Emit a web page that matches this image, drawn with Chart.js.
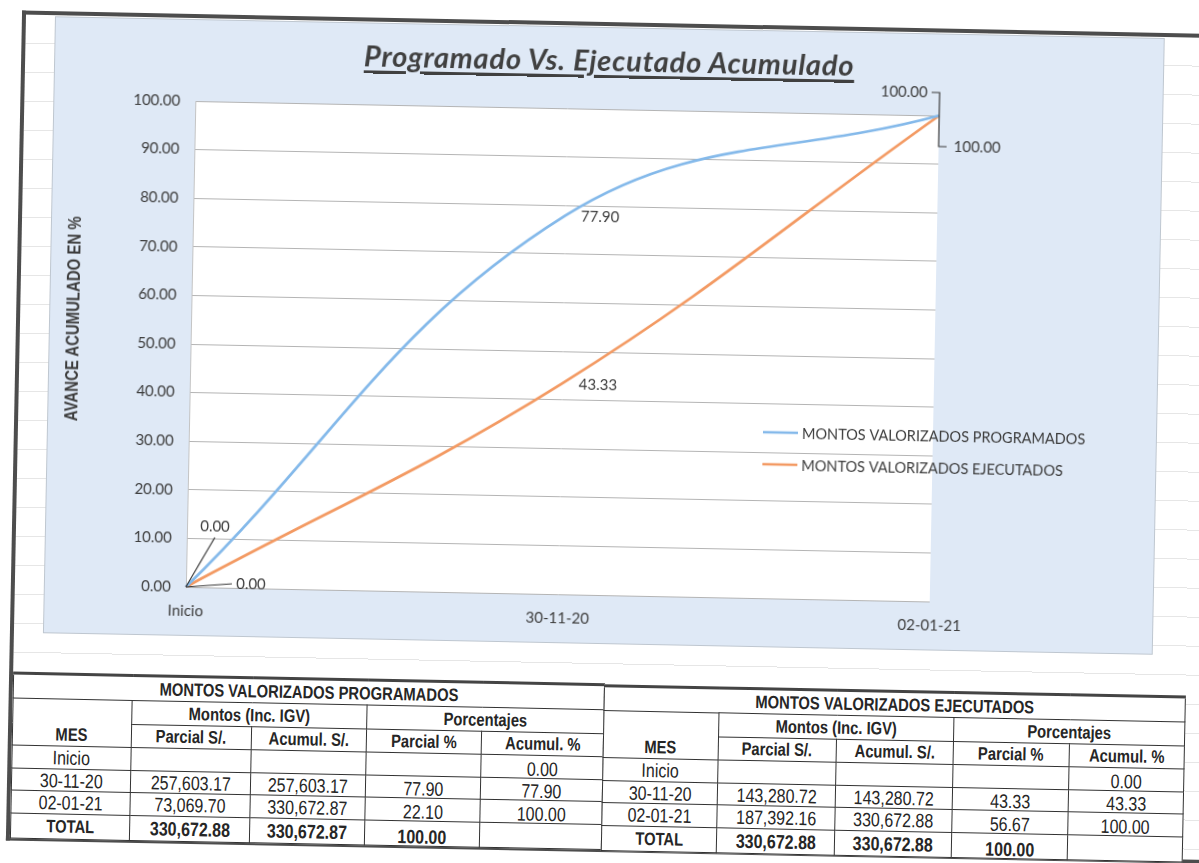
<!DOCTYPE html>
<html>
<head>
<meta charset="utf-8">
<script src="https://cdn.jsdelivr.net/npm/chart.js@4.4.1/dist/chart.umd.min.js"></script>
<style>
html,body{margin:0;padding:0;background:#fff;width:1199px;height:863px;overflow:hidden;}
#page{position:absolute;left:0;top:0;width:1199px;height:863px;transform:rotate(1.12deg);transform-origin:600px 430px;}
#frame{position:absolute;left:14px;top:22px;width:1230px;height:830px;box-sizing:border-box;border:4px solid #4d4d4d;border-right:none;
  background-image:repeating-linear-gradient(to bottom,transparent 0,transparent 28px,#e6e6e6 28px,#e6e6e6 29px);}
#chartbox{position:absolute;left:48px;top:28px;width:1108px;height:615px;background:#dfe9f6;box-shadow:0 0 0 1px #bfc7d0;}
#chartbox canvas{position:absolute;left:0;top:0;}
#title{position:absolute;left:48px;width:1108px;top:42px;height:36px;line-height:36px;text-align:center;
  font-family:Lato,"Open Sans",sans-serif;font-weight:bold;font-style:italic;font-size:29px;letter-spacing:0.8px;color:#404040;
  text-decoration:underline;text-decoration-thickness:2.5px;text-underline-offset:4px;}
#ytitle{position:absolute;left:-59px;top:319px;width:260px;height:20px;line-height:20px;text-align:center;
  transform:rotate(-90deg) scaleX(0.83);font-family:"Liberation Sans",Arial,sans-serif;
  font-weight:bold;font-size:18px;color:#3d3d3d;white-space:nowrap;}
table.t{position:absolute;border-collapse:collapse;table-layout:fixed;
  font-family:"Liberation Sans",Arial,sans-serif;color:#262626;background:#fff;}
table.t td{border:1px solid #333;padding:0;text-align:center;vertical-align:middle;font-size:19.5px;line-height:18px;white-space:nowrap;overflow:hidden;}
table.t td span{display:inline-block;transform:scaleX(0.82);transform-origin:50% 50%;}
table.t td.h{font-weight:bold;font-size:18px;}
table.t td.bt{font-weight:bold;}
table.t tr.top td{border-top:3px solid #444;}
table.t td.p{vertical-align:bottom;padding-bottom:0;}
table.t td.mes{vertical-align:bottom;padding-bottom:2px;}
</style>
</head>
<body>
<div id="page">
  <div id="frame"></div>
  <div id="chartbox"><canvas id="c" width="1108" height="615"></canvas></div>
  <div id="title">Programado Vs. Ejecutado Acumulado</div>
  <div id="ytitle">AVANCE ACUMULADO EN %</div>
  <table class="t" id="tprog" style="left:18px;top:683px"></table>
  <table class="t" id="tejec" style="left:609px;top:684px"></table>
</div>
<script>
// ---------------- data ----------------
const meses = ['Inicio', '30-11-20', '02-01-21'];
const progParcial    = [null, 257603.17, 73069.70];
const progAcum       = [null, 257603.17, 330672.87];
const progPctParcial = [null, 77.90, 22.10];
const progPctAcum    = [0.00, 77.90, 100.00];
const progTotal      = [330672.88, 330672.87, 100.00];

const ejecParcial    = [null, 143280.72, 187392.16];
const ejecAcum       = [null, 143280.72, 330672.88];
const ejecPctParcial = [null, 43.33, 56.67];
const ejecPctAcum    = [0.00, 43.33, 100.00];
const ejecTotal      = [330672.88, 330672.88, 100.00];

const seriesNames = ['MONTOS VALORIZADOS PROGRAMADOS', 'MONTOS VALORIZADOS EJECUTADOS'];
const yMin = 0, yMax = 100, yStep = 10;

// ---------------- table ----------------
const fmt = v => (v === null || v === undefined) ? '' :
  v.toLocaleString('en-US', {minimumFractionDigits: 2, maximumFractionDigits: 2});
const sp = s => s === '' ? '' : '<span>' + s + '</span>';

function buildTable(id, widths, title, parc, acum, pp, pa, total) {
  const rowH = [25, 24, 23, 23, 22, 23, 25];
  let h = '<colgroup>' + widths.map(w => '<col style="width:' + w + 'px">').join('') + '</colgroup>';
  h += '<tr class="top" style="height:' + rowH[0] + 'px"><td colspan="5" class="h">' + sp(title) + '</td></tr>';
  h += '<tr style="height:' + rowH[1] + 'px"><td rowspan="2" class="h mes">' + sp('MES') + '</td><td colspan="2" class="h">' + sp('Montos (Inc. IGV)') +
       '</td><td colspan="2" class="h">' + sp('Porcentajes') + '</td></tr>';
  h += '<tr style="height:' + rowH[2] + 'px"><td class="h">' + sp('Parcial S/.') + '</td><td class="h">' + sp('Acumul. S/.') +
       '</td><td class="h">' + sp('Parcial %') + '</td><td class="h">' + sp('Acumul. %') + '</td></tr>';
  for (let i = 0; i < meses.length; i++) {
    h += '<tr style="height:' + rowH[3 + i] + 'px"><td>' + sp(meses[i]) + '</td><td>' + sp(fmt(parc[i])) + '</td><td>' + sp(fmt(acum[i])) +
      '</td><td class="p">' + sp(fmt(pp[i])) + '</td><td class="p">' + sp(fmt(pa[i])) + '</td></tr>';
  }
  h += '<tr style="height:' + rowH[6] + 'px"><td class="h">' + sp('TOTAL') + '</td><td class="bt">' + sp(fmt(total[0])) + '</td><td class="bt">' + sp(fmt(total[1])) +
    '</td><td class="bt p">' + sp(fmt(total[2])) + '</td><td></td></tr>';
  const t = document.getElementById(id);
  t.innerHTML = h;
  t.style.width = widths.reduce((a, b) => a + b, 0) + 'px';
}
buildTable('tprog', [119, 120, 115, 115, 122], 'MONTOS VALORIZADOS PROGRAMADOS', progParcial, progAcum, progPctParcial, progPctAcum, progTotal);
buildTable('tejec', [115, 118, 117, 116, 115], 'MONTOS VALORIZADOS EJECUTADOS', ejecParcial, ejecAcum, ejecPctParcial, ejecPctAcum, ejecTotal);

// ---------------- chart ----------------
const TEXT = '#3d3d3d';
const FONT = 'Lato, "Open Sans", sans-serif';
const colors = ['#84b9ea', '#f39a63'];

// label placement (pixel offsets from each point), styling only
const labelLayout = [
  [ {dx: 28, dy: -61, align: 'center', leader: [[28, -50]]},
    {dx: 35, dy: 1, align: 'center'},
    {dx: -12, dy: -23, align: 'right', leader: [[0, -23], [-8, -23]]} ],
  [ {dx: 65, dy: -4, align: 'center', leader: [[46, -4]]},
    {dx: 36, dy: 1, align: 'center'},
    {dx: 15, dy: 31, align: 'left', leader: [[0, 31], [8, 31]]} ]
];

const plotBg = {
  id: 'plotBg',
  beforeDraw(chart) {
    const {ctx, chartArea: a} = chart;
    ctx.save();
    ctx.fillStyle = '#ffffff';
    ctx.fillRect(a.left, a.top, a.right - a.left, a.bottom - a.top);
    ctx.restore();
  }
};

const dataLabels = {
  id: 'dataLabels',
  afterDatasetsDraw(chart) {
    const ctx = chart.ctx;
    ctx.save();
    chart.data.datasets.forEach((ds, di) => {
      const meta = chart.getDatasetMeta(di);
      meta.data.forEach((pt, i) => {
        const L = labelLayout[di][i];
        if (!L) return;
        if (L.leader) {
          ctx.beginPath();
          ctx.strokeStyle = '#3a3a3a';
          ctx.lineWidth = 1.2;
          ctx.moveTo(pt.x, pt.y);
          L.leader.forEach(p => ctx.lineTo(pt.x + p[0], pt.y + p[1]));
          ctx.stroke();
        }
        ctx.fillStyle = TEXT;
        ctx.font = '15px ' + FONT;
        ctx.textAlign = L.align;
        ctx.textBaseline = 'middle';
        ctx.fillText(ds.data[i].toFixed(2), pt.x + L.dx, pt.y + L.dy);
      });
    });
    ctx.restore();
  }
};

const innerLegend = {
  id: 'innerLegend',
  afterDraw(chart) {
    const {ctx, chartArea: a} = chart;
    const x0 = a.right - 170, y0 = a.top + 320, gap = 32;
    ctx.save();
    chart.data.datasets.forEach((ds, i) => {
      const y = y0 + i * gap;
      ctx.strokeStyle = ds.borderColor;
      ctx.lineWidth = 2.5;
      ctx.beginPath();
      ctx.moveTo(x0, y);
      ctx.lineTo(x0 + 35, y);
      ctx.stroke();
      ctx.fillStyle = TEXT;
      ctx.font = '14.5px ' + FONT;
      ctx.textAlign = 'left';
      ctx.textBaseline = 'middle';
      ctx.fillText(ds.label, x0 + 39, y + 1);
    });
    ctx.restore();
  }
};

new Chart(document.getElementById('c'), {
  type: 'line',
  data: {
    labels: meses,
    datasets: [
      {label: seriesNames[0], data: progPctAcum, borderColor: colors[0], backgroundColor: colors[0],
       borderWidth: 2.75, pointRadius: 0, tension: 0.4, fill: false, clip: false},
      {label: seriesNames[1], data: ejecPctAcum, borderColor: colors[1], backgroundColor: colors[1],
       borderWidth: 2.75, pointRadius: 0, tension: 0.4, fill: false, clip: false}
    ]
  },
  options: {
    responsive: false,
    animation: false,
    devicePixelRatio: 1,
    layout: {padding: {left: 0, right: 223, top: 81, bottom: 0}},
    plugins: {legend: {display: false}, title: {display: false}, tooltip: {enabled: false}},
    scales: {
      x: {
        type: 'category',
        offset: false,
        grid: {display: false, drawTicks: false},
        border: {display: false},
        ticks: {color: TEXT, font: {family: FONT, size: 15}, padding: 15, maxRotation: 0, autoSkip: false},
        afterFit: s => { s.height = 48; }
      },
      y: {
        min: yMin, max: yMax,
        grid: {color: '#b4b4b4', lineWidth: 1, drawTicks: false},
        border: {display: true, color: '#c4c4c4'},
        ticks: {stepSize: yStep, color: TEXT, font: {family: FONT, size: 15}, padding: 15,
                callback: v => Number(v).toFixed(2)},
        afterFit: s => { s.width = 141; }
      }
    }
  },
  plugins: [plotBg, dataLabels, innerLegend]
});
</script>
</body>
</html>
